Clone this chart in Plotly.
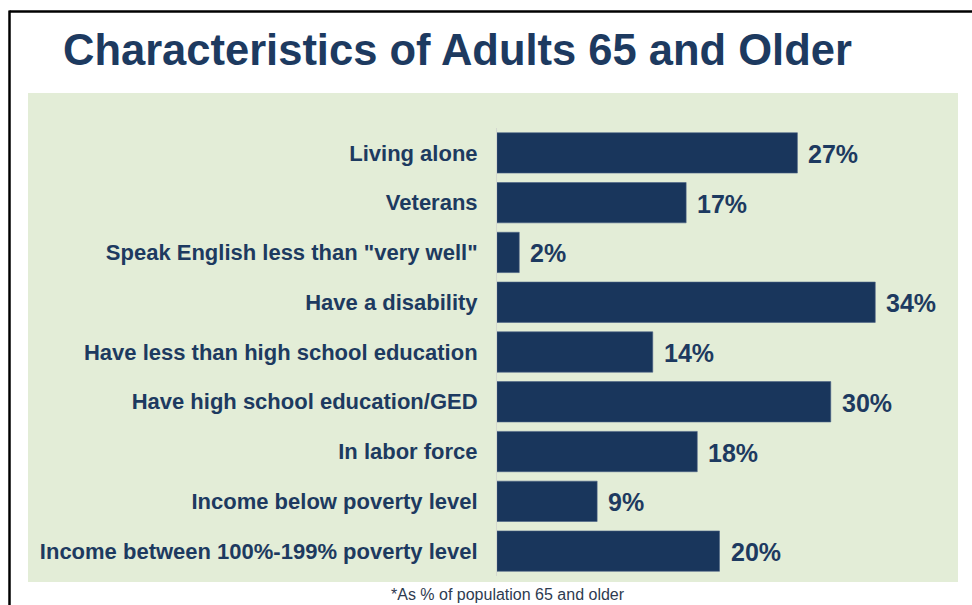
import plotly.graph_objects as go

categories = [
    "Living alone",
    "Veterans",
    'Speak English less than "very well"',
    "Have a disability",
    "Have less than high school education",
    "Have high school education/GED",
    "In labor force",
    "Income below poverty level",
    "Income between 100%-199% poverty level",
]
values = [27, 17, 2, 34, 14, 30, 18, 9, 20]
value_labels = ["27%", "17%", "2%", "34%", "14%", "30%", "18%", "9%", "20%"]

TITLE = "Characteristics of Adults 65 and Older"
FOOTNOTE = "*As % of population 65 and older"

W, H = 972, 605
ML, MR, MT, MB = 497, 30, 128, 29
PW = W - ML - MR
PH = H - MT - MB

def px(x):
    return (x - ML) / PW

def py(y):
    return (H - MB - y) / PH

NAVY = "#19365C"
TEXT = "#1D3A60"
GREEN = "#E3EDD7"
FONT = "Liberation Sans, Arial, sans-serif"

fig = go.Figure()
fig.add_trace(go.Bar(
    x=values,
    y=categories,
    orientation="h",
    marker=dict(color=NAVY, line=dict(color="#4A6284", width=0.6)),
    width=0.81,
    hoverinfo="skip",
))

for v, c, t in zip(values, categories, value_labels):
    fig.add_annotation(
        x=v, y=c, text=t, showarrow=False,
        xanchor="left", yanchor="middle", xshift=9, yshift=-1,
        font=dict(family=FONT, size=25, color=TEXT, weight="bold"),
    )

fig.add_annotation(
    x=px(508), y=py(594), xref="paper", yref="paper",
    text=FOOTNOTE, showarrow=False, xanchor="center", yanchor="middle",
    font=dict(family=FONT, size=16, color="#2E3B50"),
)

shapes = [
    dict(type="rect", xref="paper", yref="paper", layer="below",
         x0=px(28), x1=px(958), y0=py(582), y1=py(93),
         fillcolor=GREEN, line=dict(width=0)),
    dict(type="line", xref="paper", yref="paper",
         x0=px(9.5), x1=px(975), y0=py(11.5), y1=py(11.5),
         line=dict(color="black", width=2.5)),
    dict(type="line", xref="paper", yref="paper",
         x0=px(9.5), x1=px(9.5), y0=py(10.5), y1=py(610),
         line=dict(color="black", width=2.5)),
]

fig.update_layout(
    width=W, height=H,
    margin=dict(l=ML, r=MR, t=MT, b=MB, autoexpand=False),
    paper_bgcolor="white",
    plot_bgcolor="rgba(0,0,0,0)",
    showlegend=False,
    shapes=shapes,
    title=dict(
        text=TITLE, xref="container", yref="container",
        x=63 / W, xanchor="left", y=1 - 50 / H, yanchor="middle",
        font=dict(family=FONT, size=43.5, color=TEXT, weight="bold"),
    ),
    bargap=0.19,
    xaxis=dict(range=[0, 40], visible=False, fixedrange=True),
    yaxis=dict(
        categoryorder="array", categoryarray=categories, autorange="reversed",
        showline=True, linecolor="#D4D8CF", linewidth=1,
        showgrid=False, zeroline=False,
        ticks="outside", ticklen=14, tickcolor="rgba(0,0,0,0)",
        tickfont=dict(family=FONT, size=22, color=TEXT, weight="bold"),
    ),
)

fig.write_html(
    "out.html",
    config={"displayModeBar": False},
    post_script="document.body.style.margin='0';document.body.style.padding='0';document.body.style.overflow='hidden';",
)
